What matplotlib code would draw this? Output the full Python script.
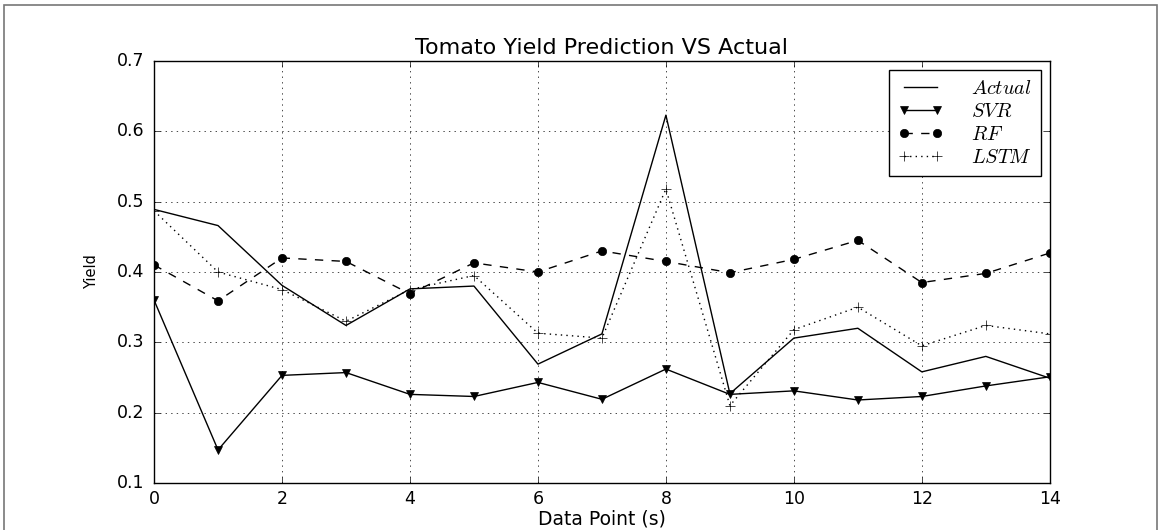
"""Tomato yield: model predictions vs actual, classic matplotlib look."""

import matplotlib

matplotlib.use("Agg")
import matplotlib.pyplot as plt
from matplotlib.patches import Rectangle

plt.style.use("classic")
plt.rcParams["font.family"] = ["DejaVu Sans"]
plt.rcParams["mathtext.fontset"] = "cm"

# ---------------------------------------------------------------------------
# Data
# ---------------------------------------------------------------------------
data_points = list(range(15))
actual = [0.489, 0.466, 0.381, 0.324, 0.376, 0.380, 0.269, 0.312,
          0.623, 0.227, 0.306, 0.320, 0.258, 0.280, 0.249]
svr = [0.360, 0.147, 0.253, 0.257, 0.226, 0.223, 0.243, 0.219,
       0.262, 0.226, 0.231, 0.218, 0.223, 0.238, 0.251]
rf = [0.410, 0.359, 0.420, 0.415, 0.369, 0.413, 0.400, 0.430,
      0.415, 0.399, 0.418, 0.445, 0.385, 0.398, 0.427]
lstm = [0.487, 0.400, 0.375, 0.330, 0.375, 0.395, 0.313, 0.306,
        0.518, 0.210, 0.318, 0.350, 0.295, 0.324, 0.312]

fig = plt.figure(figsize=(11.6, 5.3), dpi=100, facecolor="white")
ax = fig.add_axes([0.1328, 0.0887, 0.7722, 0.7962])

ax.plot(data_points, actual, "k-", linewidth=1.0, label="$Actual$")
ax.plot(data_points, svr, "k-", marker="v", markersize=6, linewidth=1.0,
        label="$SVR$")
ax.plot(data_points, rf, "k--", marker="o", markersize=6, linewidth=1.0,
        label="$RF$")
ax.plot(data_points, lstm, "k:", marker="+", markersize=7, linewidth=1.0,
        label="$LSTM$")

ax.set_xlim(0, 14)
ax.set_ylim(0.1, 0.7)
ax.set_xticks(range(0, 15, 2))
ax.set_yticks([0.1, 0.2, 0.3, 0.4, 0.5, 0.6, 0.7])
ax.tick_params(labelsize=12.5)
ax.tick_params(axis="y", pad=7)
ax.tick_params(axis="x", pad=5)
ax.grid(True, color="k", linestyle=":", linewidth=0.5)

ax.set_title("Tomato Yield Prediction VS Actual", fontsize=16, pad=5)
ax.set_xlabel("Data Point (s)", fontsize=13.5, labelpad=1)
ax.set_ylabel("Yield", fontsize=10.5, labelpad=13)

leg = ax.legend(loc="upper right", numpoints=2, fontsize=14.5,
                borderaxespad=0.45, handlelength=2.2, handletextpad=1.4,
                labelspacing=0.2, borderpad=0.45)
leg.get_frame().set_linewidth(1.0)

# thin grey frame around the whole picture
fig.patches.append(Rectangle((0.0035, -0.01), 0.994, 1.0, transform=fig.transFigure,
                             fill=False, edgecolor="#777777", linewidth=1.2))

fig.savefig("out.png", dpi=100, facecolor="white")
